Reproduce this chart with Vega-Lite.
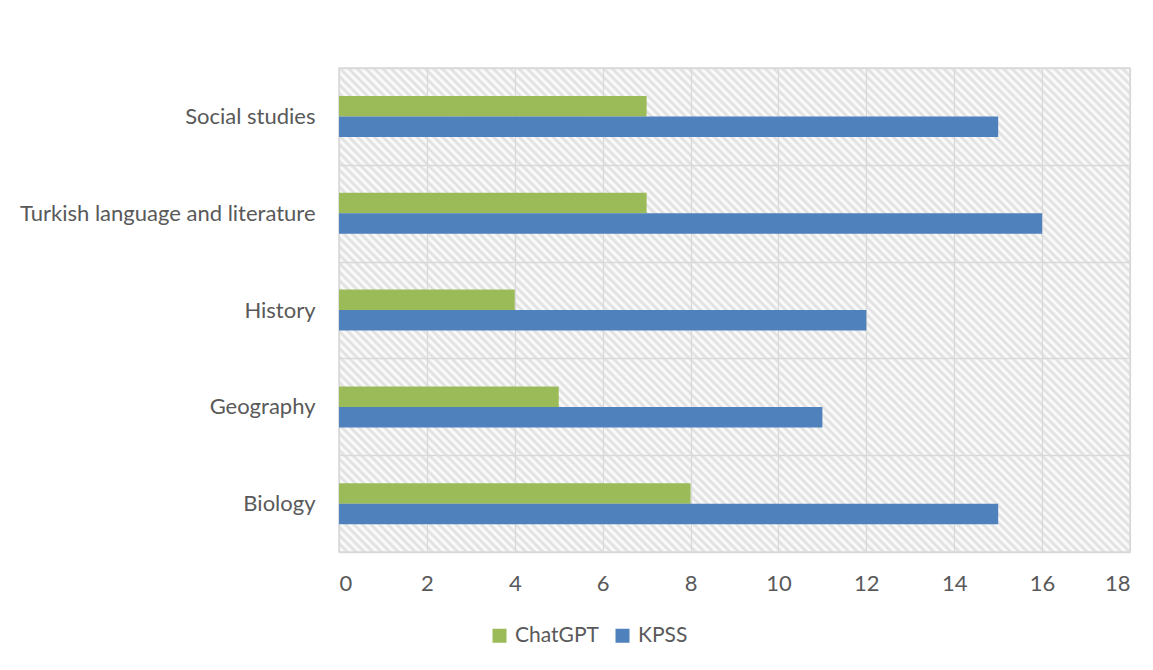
{
  "$schema": "https://vega.github.io/schema/vega-lite/v6.json",
  "autosize": "none",
  "width": 791,
  "height": 484,
  "padding": {"left": 339, "top": 68, "right": 23, "bottom": 118},
  "background": "white",
  "data": {
    "values": [
      {"subject": "Social studies", "source": "ChatGPT", "value": 7},
      {"subject": "Social studies", "source": "KPSS", "value": 15},
      {"subject": "Turkish language and literature", "source": "ChatGPT", "value": 7},
      {"subject": "Turkish language and literature", "source": "KPSS", "value": 16},
      {"subject": "History", "source": "ChatGPT", "value": 4},
      {"subject": "History", "source": "KPSS", "value": 12},
      {"subject": "Geography", "source": "ChatGPT", "value": 5},
      {"subject": "Geography", "source": "KPSS", "value": 11},
      {"subject": "Biology", "source": "ChatGPT", "value": 8},
      {"subject": "Biology", "source": "KPSS", "value": 15}
    ]
  },
  "mark": {"type": "bar"},
  "encoding": {
    "y": {
      "field": "subject",
      "type": "nominal",
      "sort": ["Social studies", "Turkish language and literature", "History", "Geography", "Biology"],
      "scale": {"paddingInner": 0, "paddingOuter": 0},
      "axis": {"title": null, "tickBand": "extent", "grid": true, "ticks": false, "domain": false, "labelPadding": 24, "labelLimit": 400}
    },
    "yOffset": {
      "field": "source",
      "type": "nominal",
      "sort": ["ChatGPT", "KPSS"],
      "scale": {"paddingInner": 0, "paddingOuter": 0, "range": [28, 69]}
    },
    "x": {
      "field": "value",
      "type": "quantitative",
      "scale": {"domain": [0, 18], "nice": false},
      "axis": {"title": null, "values": [0, 2, 4, 6, 8, 10, 12, 14, 16, 18], "grid": true, "ticks": false, "domain": false, "labelPadding": 21}
    },
    "color": {
      "field": "source",
      "type": "nominal",
      "sort": ["ChatGPT", "KPSS"],
      "scale": {"domain": ["ChatGPT", "KPSS"], "range": ["#9BBB59", "#4F81BD"]},
      "legend": {"title": null, "orient": "none", "direction": "horizontal", "legendX": 150, "legendY": 557, "symbolType": "square", "symbolSize": 196, "symbolStrokeWidth": 0, "symbolOpacity": 1, "labelOffset": 5, "columnPadding": 13, "padding": 0, "labelFontSize": 21}
    }
  },
  "config": {
    "font": "Lato",
    "axis": {"labelFont": "Lato", "labelFontSize": 22, "labelColor": "#595959", "gridColor": "#D9D9D9", "gridWidth": 1.3, "gridOpacity": 1},
    "legend": {"labelFont": "Lato", "labelFontSize": 21, "labelColor": "#595959"},
    "view": {
      "stroke": "#D9D9D9",
      "strokeWidth": 1.5,
      "fill": {
        "gradient": "linear",
        "x1": 0, "y1": 1, "x2": 1.173, "y2": 0.282,
        "stops": [
{"offset":0,"color":"#ddd"},{"offset":0.0033,"color":"#fff"},{"offset":0.0067,"color":"#ddd"},
{"offset":0.01,"color":"#fff"},{"offset":0.0133,"color":"#ddd"},{"offset":0.0167,"color":"#fff"},
{"offset":0.02,"color":"#ddd"},{"offset":0.0233,"color":"#fff"},{"offset":0.0267,"color":"#ddd"},
{"offset":0.03,"color":"#fff"},{"offset":0.0333,"color":"#ddd"},{"offset":0.0367,"color":"#fff"},
{"offset":0.04,"color":"#ddd"},{"offset":0.0433,"color":"#fff"},{"offset":0.0467,"color":"#ddd"},
{"offset":0.05,"color":"#fff"},{"offset":0.0533,"color":"#ddd"},{"offset":0.0567,"color":"#fff"},
{"offset":0.06,"color":"#ddd"},{"offset":0.0633,"color":"#fff"},{"offset":0.0667,"color":"#ddd"},
{"offset":0.07,"color":"#fff"},{"offset":0.0733,"color":"#ddd"},{"offset":0.0767,"color":"#fff"},
{"offset":0.08,"color":"#ddd"},{"offset":0.0833,"color":"#fff"},{"offset":0.0867,"color":"#ddd"},
{"offset":0.09,"color":"#fff"},{"offset":0.0933,"color":"#ddd"},{"offset":0.0967,"color":"#fff"},
{"offset":0.10,"color":"#ddd"},{"offset":0.1033,"color":"#fff"},{"offset":0.1067,"color":"#ddd"},
{"offset":0.11,"color":"#fff"},{"offset":0.1133,"color":"#ddd"},{"offset":0.1167,"color":"#fff"},
{"offset":0.12,"color":"#ddd"},{"offset":0.1233,"color":"#fff"},{"offset":0.1267,"color":"#ddd"},
{"offset":0.13,"color":"#fff"},{"offset":0.1333,"color":"#ddd"},{"offset":0.1367,"color":"#fff"},
{"offset":0.14,"color":"#ddd"},{"offset":0.1433,"color":"#fff"},{"offset":0.1467,"color":"#ddd"},
{"offset":0.15,"color":"#fff"},{"offset":0.1533,"color":"#ddd"},{"offset":0.1567,"color":"#fff"},
{"offset":0.16,"color":"#ddd"},{"offset":0.1633,"color":"#fff"},{"offset":0.1667,"color":"#ddd"},
{"offset":0.17,"color":"#fff"},{"offset":0.1733,"color":"#ddd"},{"offset":0.1767,"color":"#fff"},
{"offset":0.18,"color":"#ddd"},{"offset":0.1833,"color":"#fff"},{"offset":0.1867,"color":"#ddd"},
{"offset":0.19,"color":"#fff"},{"offset":0.1933,"color":"#ddd"},{"offset":0.1967,"color":"#fff"},
{"offset":0.20,"color":"#ddd"},{"offset":0.2033,"color":"#fff"},{"offset":0.2067,"color":"#ddd"},
{"offset":0.21,"color":"#fff"},{"offset":0.2133,"color":"#ddd"},{"offset":0.2167,"color":"#fff"},
{"offset":0.22,"color":"#ddd"},{"offset":0.2233,"color":"#fff"},{"offset":0.2267,"color":"#ddd"},
{"offset":0.23,"color":"#fff"},{"offset":0.2333,"color":"#ddd"},{"offset":0.2367,"color":"#fff"},
{"offset":0.24,"color":"#ddd"},{"offset":0.2433,"color":"#fff"},{"offset":0.2467,"color":"#ddd"},
{"offset":0.25,"color":"#fff"},{"offset":0.2533,"color":"#ddd"},{"offset":0.2567,"color":"#fff"},
{"offset":0.26,"color":"#ddd"},{"offset":0.2633,"color":"#fff"},{"offset":0.2667,"color":"#ddd"},
{"offset":0.27,"color":"#fff"},{"offset":0.2733,"color":"#ddd"},{"offset":0.2767,"color":"#fff"},
{"offset":0.28,"color":"#ddd"},{"offset":0.2833,"color":"#fff"},{"offset":0.2867,"color":"#ddd"},
{"offset":0.29,"color":"#fff"},{"offset":0.2933,"color":"#ddd"},{"offset":0.2967,"color":"#fff"},
{"offset":0.30,"color":"#ddd"},{"offset":0.3033,"color":"#fff"},{"offset":0.3067,"color":"#ddd"},
{"offset":0.31,"color":"#fff"},{"offset":0.3133,"color":"#ddd"},{"offset":0.3167,"color":"#fff"},
{"offset":0.32,"color":"#ddd"},{"offset":0.3233,"color":"#fff"},{"offset":0.3267,"color":"#ddd"},
{"offset":0.33,"color":"#fff"},{"offset":0.3333,"color":"#ddd"},{"offset":0.3367,"color":"#fff"},
{"offset":0.34,"color":"#ddd"},{"offset":0.3433,"color":"#fff"},{"offset":0.3467,"color":"#ddd"},
{"offset":0.35,"color":"#fff"},{"offset":0.3533,"color":"#ddd"},{"offset":0.3567,"color":"#fff"},
{"offset":0.36,"color":"#ddd"},{"offset":0.3633,"color":"#fff"},{"offset":0.3667,"color":"#ddd"},
{"offset":0.37,"color":"#fff"},{"offset":0.3733,"color":"#ddd"},{"offset":0.3767,"color":"#fff"},
{"offset":0.38,"color":"#ddd"},{"offset":0.3833,"color":"#fff"},{"offset":0.3867,"color":"#ddd"},
{"offset":0.39,"color":"#fff"},{"offset":0.3933,"color":"#ddd"},{"offset":0.3967,"color":"#fff"},
{"offset":0.40,"color":"#ddd"},{"offset":0.4033,"color":"#fff"},{"offset":0.4067,"color":"#ddd"},
{"offset":0.41,"color":"#fff"},{"offset":0.4133,"color":"#ddd"},{"offset":0.4167,"color":"#fff"},
{"offset":0.42,"color":"#ddd"},{"offset":0.4233,"color":"#fff"},{"offset":0.4267,"color":"#ddd"},
{"offset":0.43,"color":"#fff"},{"offset":0.4333,"color":"#ddd"},{"offset":0.4367,"color":"#fff"},
{"offset":0.44,"color":"#ddd"},{"offset":0.4433,"color":"#fff"},{"offset":0.4467,"color":"#ddd"},
{"offset":0.45,"color":"#fff"},{"offset":0.4533,"color":"#ddd"},{"offset":0.4567,"color":"#fff"},
{"offset":0.46,"color":"#ddd"},{"offset":0.4633,"color":"#fff"},{"offset":0.4667,"color":"#ddd"},
{"offset":0.47,"color":"#fff"},{"offset":0.4733,"color":"#ddd"},{"offset":0.4767,"color":"#fff"},
{"offset":0.48,"color":"#ddd"},{"offset":0.4833,"color":"#fff"},{"offset":0.4867,"color":"#ddd"},
{"offset":0.49,"color":"#fff"},{"offset":0.4933,"color":"#ddd"},{"offset":0.4967,"color":"#fff"},
{"offset":0.50,"color":"#ddd"},{"offset":0.5033,"color":"#fff"},{"offset":0.5067,"color":"#ddd"},
{"offset":0.51,"color":"#fff"},{"offset":0.5133,"color":"#ddd"},{"offset":0.5167,"color":"#fff"},
{"offset":0.52,"color":"#ddd"},{"offset":0.5233,"color":"#fff"},{"offset":0.5267,"color":"#ddd"},
{"offset":0.53,"color":"#fff"},{"offset":0.5333,"color":"#ddd"},{"offset":0.5367,"color":"#fff"},
{"offset":0.54,"color":"#ddd"},{"offset":0.5433,"color":"#fff"},{"offset":0.5467,"color":"#ddd"},
{"offset":0.55,"color":"#fff"},{"offset":0.5533,"color":"#ddd"},{"offset":0.5567,"color":"#fff"},
{"offset":0.56,"color":"#ddd"},{"offset":0.5633,"color":"#fff"},{"offset":0.5667,"color":"#ddd"},
{"offset":0.57,"color":"#fff"},{"offset":0.5733,"color":"#ddd"},{"offset":0.5767,"color":"#fff"},
{"offset":0.58,"color":"#ddd"},{"offset":0.5833,"color":"#fff"},{"offset":0.5867,"color":"#ddd"},
{"offset":0.59,"color":"#fff"},{"offset":0.5933,"color":"#ddd"},{"offset":0.5967,"color":"#fff"},
{"offset":0.60,"color":"#ddd"},{"offset":0.6033,"color":"#fff"},{"offset":0.6067,"color":"#ddd"},
{"offset":0.61,"color":"#fff"},{"offset":0.6133,"color":"#ddd"},{"offset":0.6167,"color":"#fff"},
{"offset":0.62,"color":"#ddd"},{"offset":0.6233,"color":"#fff"},{"offset":0.6267,"color":"#ddd"},
{"offset":0.63,"color":"#fff"},{"offset":0.6333,"color":"#ddd"},{"offset":0.6367,"color":"#fff"},
{"offset":0.64,"color":"#ddd"},{"offset":0.6433,"color":"#fff"},{"offset":0.6467,"color":"#ddd"},
{"offset":0.65,"color":"#fff"},{"offset":0.6533,"color":"#ddd"},{"offset":0.6567,"color":"#fff"},
{"offset":0.66,"color":"#ddd"},{"offset":0.6633,"color":"#fff"},{"offset":0.6667,"color":"#ddd"},
{"offset":0.67,"color":"#fff"},{"offset":0.6733,"color":"#ddd"},{"offset":0.6767,"color":"#fff"},
{"offset":0.68,"color":"#ddd"},{"offset":0.6833,"color":"#fff"},{"offset":0.6867,"color":"#ddd"},
{"offset":0.69,"color":"#fff"},{"offset":0.6933,"color":"#ddd"},{"offset":0.6967,"color":"#fff"},
{"offset":0.70,"color":"#ddd"},{"offset":0.7033,"color":"#fff"},{"offset":0.7067,"color":"#ddd"},
{"offset":0.71,"color":"#fff"},{"offset":0.7133,"color":"#ddd"},{"offset":0.7167,"color":"#fff"},
{"offset":0.72,"color":"#ddd"},{"offset":0.7233,"color":"#fff"},{"offset":0.7267,"color":"#ddd"},
{"offset":0.73,"color":"#fff"},{"offset":0.7333,"color":"#ddd"},{"offset":0.7367,"color":"#fff"},
{"offset":0.74,"color":"#ddd"},{"offset":0.7433,"color":"#fff"},{"offset":0.7467,"color":"#ddd"},
{"offset":0.75,"color":"#fff"},{"offset":0.7533,"color":"#ddd"},{"offset":0.7567,"color":"#fff"},
{"offset":0.76,"color":"#ddd"},{"offset":0.7633,"color":"#fff"},{"offset":0.7667,"color":"#ddd"},
{"offset":0.77,"color":"#fff"},{"offset":0.7733,"color":"#ddd"},{"offset":0.7767,"color":"#fff"},
{"offset":0.78,"color":"#ddd"},{"offset":0.7833,"color":"#fff"},{"offset":0.7867,"color":"#ddd"},
{"offset":0.79,"color":"#fff"},{"offset":0.7933,"color":"#ddd"},{"offset":0.7967,"color":"#fff"},
{"offset":0.80,"color":"#ddd"},{"offset":0.8033,"color":"#fff"},{"offset":0.8067,"color":"#ddd"},
{"offset":0.81,"color":"#fff"},{"offset":0.8133,"color":"#ddd"},{"offset":0.8167,"color":"#fff"},
{"offset":0.82,"color":"#ddd"},{"offset":0.8233,"color":"#fff"},{"offset":0.8267,"color":"#ddd"},
{"offset":0.83,"color":"#fff"},{"offset":0.8333,"color":"#ddd"},{"offset":0.8367,"color":"#fff"},
{"offset":0.84,"color":"#ddd"},{"offset":0.8433,"color":"#fff"},{"offset":0.8467,"color":"#ddd"},
{"offset":0.85,"color":"#fff"},{"offset":0.8533,"color":"#ddd"},{"offset":0.8567,"color":"#fff"},
{"offset":0.86,"color":"#ddd"},{"offset":0.8633,"color":"#fff"},{"offset":0.8667,"color":"#ddd"},
{"offset":0.87,"color":"#fff"},{"offset":0.8733,"color":"#ddd"},{"offset":0.8767,"color":"#fff"},
{"offset":0.88,"color":"#ddd"},{"offset":0.8833,"color":"#fff"},{"offset":0.8867,"color":"#ddd"},
{"offset":0.89,"color":"#fff"},{"offset":0.8933,"color":"#ddd"},{"offset":0.8967,"color":"#fff"},
{"offset":0.90,"color":"#ddd"},{"offset":0.9033,"color":"#fff"},{"offset":0.9067,"color":"#ddd"},
{"offset":0.91,"color":"#fff"},{"offset":0.9133,"color":"#ddd"},{"offset":0.9167,"color":"#fff"},
{"offset":0.92,"color":"#ddd"},{"offset":0.9233,"color":"#fff"},{"offset":0.9267,"color":"#ddd"},
{"offset":0.93,"color":"#fff"},{"offset":0.9333,"color":"#ddd"},{"offset":0.9367,"color":"#fff"},
{"offset":0.94,"color":"#ddd"},{"offset":0.9433,"color":"#fff"},{"offset":0.9467,"color":"#ddd"},
{"offset":0.95,"color":"#fff"},{"offset":0.9533,"color":"#ddd"},{"offset":0.9567,"color":"#fff"},
{"offset":0.96,"color":"#ddd"},{"offset":0.9633,"color":"#fff"},{"offset":0.9667,"color":"#ddd"},
{"offset":0.97,"color":"#fff"},{"offset":0.9733,"color":"#ddd"},{"offset":0.9767,"color":"#fff"},
{"offset":0.98,"color":"#ddd"},{"offset":0.9833,"color":"#fff"},{"offset":0.9867,"color":"#ddd"},
{"offset":0.99,"color":"#fff"},{"offset":0.9933,"color":"#ddd"},{"offset":0.9967,"color":"#fff"},
{"offset":1,"color":"#ddd"}
        ]
      }
    }
  }
}
